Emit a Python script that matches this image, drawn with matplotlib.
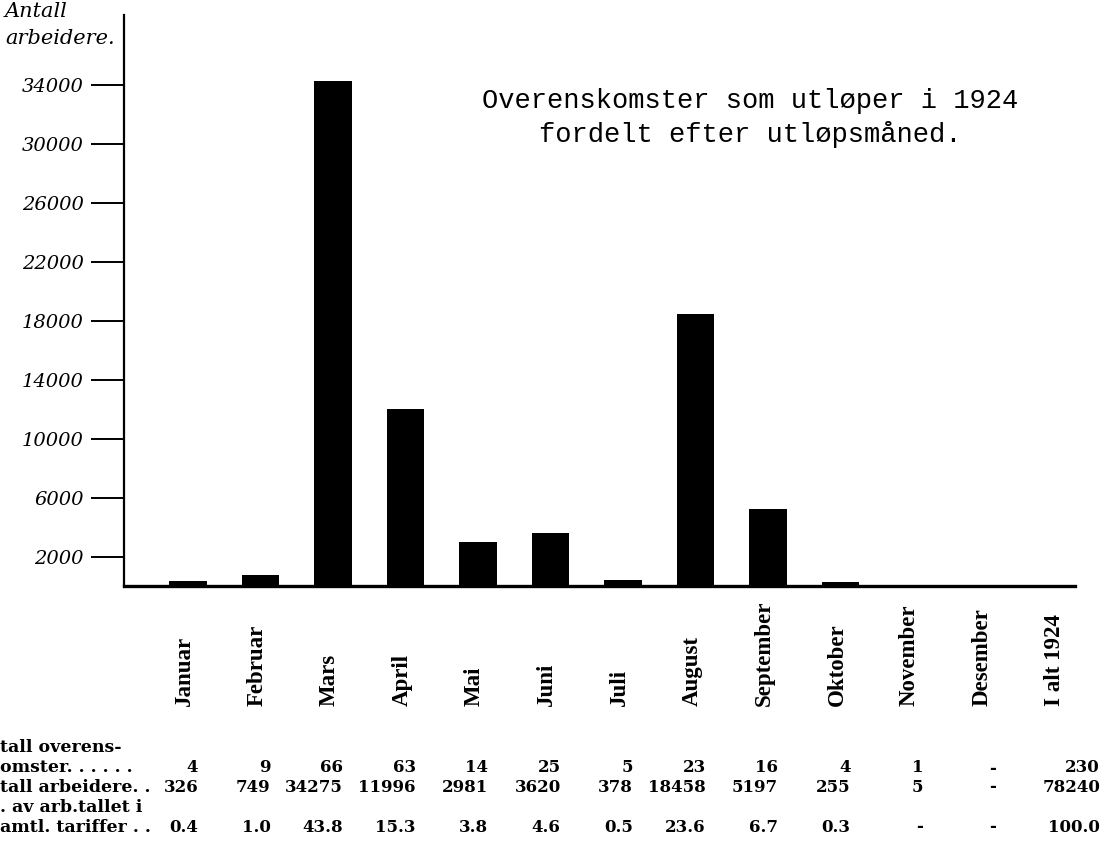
import numpy as np
import matplotlib
matplotlib.use("Agg")
import matplotlib.pyplot as plt
from matplotlib.transforms import blended_transform_factory

months = ["Januar", "Februar", "Mars", "April", "Mai", "Juni", "Juli",
          "August", "September", "Oktober", "November", "Desember", "I alt 1924"]
overenskomster = [4, 9, 66, 63, 14, 25, 5, 23, 16, 4, 1, None, 230]
arbeidere = [326, 749, 34275, 11996, 2981, 3620, 378, 18458, 5197, 255, 5, None, 78240]
prosent = [0.4, 1.0, 43.8, 15.3, 3.8, 4.6, 0.5, 23.6, 6.7, 0.3, None, None, 100.0]
yticks = [2000, 6000, 10000, 14000, 18000, 22000, 26000, 30000, 34000]

row_labels = ["tall overens-", "omster. . . . . .", "tall arbeidere. .",
              ". av arb.tallet i", "amtl. tariffer . ."]

W, H = 1104, 850
fig = plt.figure(figsize=(W / 100, H / 100), dpi=100)
fig.patch.set_facecolor("white")

# axes box in pixels: left 124, right 1075, baseline 586, top 15
ax = fig.add_axes([124 / W, (H - 586) / H, (1075 - 124) / W, (586 - 15) / H])

x = np.arange(len(months))
bar_vals = [v if v is not None else 0 for v in arbeidere[:12]]
ax.bar(x[:12], bar_vals, width=0.52, color="black")

ax.set_xlim(-0.883, 12.234)
ax.set_ylim(0, 38750)

ax.spines["top"].set_visible(False)
ax.spines["right"].set_visible(False)
ax.spines["left"].set_linewidth(1.6)
ax.spines["bottom"].set_linewidth(2.4)
ax.set_xticks([])
ax.set_yticks(yticks)
ax.set_yticklabels([str(t) for t in yticks], family="DejaVu Serif",
                   style="italic", fontsize=14)
ax.tick_params(axis="y", direction="out", length=24, width=1.4, pad=5)

fig.text(5 / W, 1 - 25 / H, "Antall\narbeidere.", family="DejaVu Serif",
         style="italic", fontsize=15, ha="left", va="center", linespacing=1.5)

fig.text(750 / W, 1 - 118 / H,
         "Overenskomster som utløper i 1924\nfordelt efter utløpsmåned.",
         family="Liberation Mono", fontsize=19.5, ha="center", va="center",
         linespacing=1.35)

# month labels, rotated
tr = blended_transform_factory(ax.transData, fig.transFigure)
for i, m in enumerate(months):
    ax.text(i - 0.05, 1 - 706 / H, m, transform=tr, rotation=90,
            ha="center", va="bottom", family="Liberation Serif",
            weight="bold", fontsize=16.5, clip_on=False)

# table under the chart
row_y = [747, 768, 787, 807, 827]
for lab, yy in zip(row_labels, row_y):
    fig.text(0, 1 - yy / H, lab, family="DejaVu Serif", weight="bold",
             fontsize=12.5, ha="left", va="center")


def fmt(v):
    if v is None:
        return "-"
    return str(v)


table_rows = [(overenskomster, 768), (arbeidere, 787), (prosent, 827)]
for vals, yy in table_rows:
    for i, v in enumerate(vals):
        xx = i + 0.14 if i < 12 else i + 0.58
        ax.text(xx, 1 - yy / H, fmt(v), transform=tr, ha="right",
                va="center", family="DejaVu Serif", weight="bold",
                fontsize=12, clip_on=False)

fig.savefig("out.png", dpi=100)
